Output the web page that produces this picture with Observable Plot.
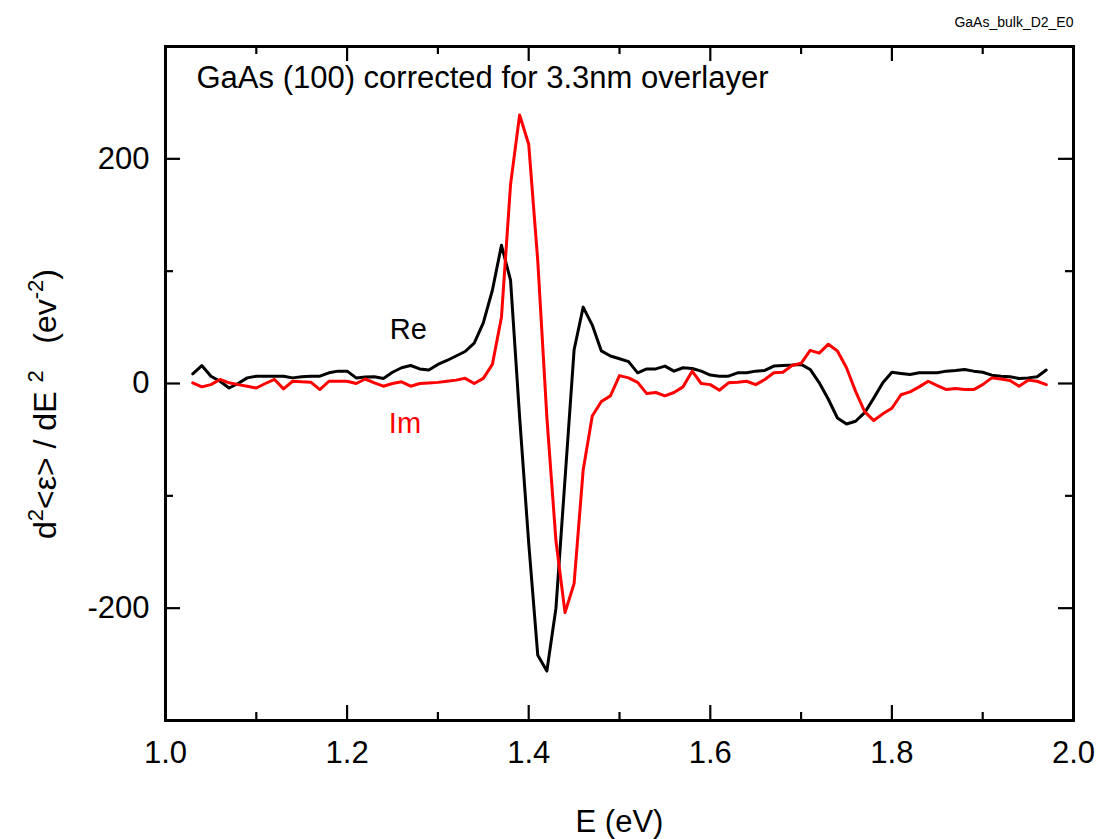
<!DOCTYPE html>
<html><head><meta charset="utf-8">
<script src="https://cdn.jsdelivr.net/npm/d3@7"></script>
<script src="https://cdn.jsdelivr.net/npm/@observablehq/plot@0.6"></script>
<style>body{margin:0;background:#fff}</style>
</head><body><div id="chart"></div>
<script>
const energy = [1.03,1.04,1.05,1.06,1.07,1.08,1.09,1.10,1.11,1.12,1.13,1.14,1.15,1.16,1.17,1.18,1.19,1.20,1.21,1.22,1.23,1.24,1.25,1.26,1.27,1.28,1.29,1.30,1.31,1.32,1.33,1.34,1.35,1.36,1.37,1.38,1.39,1.40,1.41,1.42,1.43,1.44,1.45,1.46,1.47,1.48,1.49,1.50,1.51,1.52,1.53,1.54,1.55,1.56,1.57,1.58,1.59,1.60,1.61,1.62,1.63,1.64,1.65,1.66,1.67,1.68,1.69,1.70,1.71,1.72,1.73,1.74,1.75,1.76,1.77,1.78,1.79,1.80,1.81,1.82,1.83,1.84,1.85,1.86,1.87,1.88,1.89,1.90,1.91,1.92,1.93,1.94,1.95,1.96,1.97];
const reValues = [8.6,16,6.5,2,-4,0,5,6.5,6.5,6.5,6.5,5,6,6.5,6.5,9.5,11,11,5,5.7,6,4.5,10,14,16,13,12,17,20.5,24.5,28.5,36,54,83,123,92,-30,-142,-242,-256,-200,-85,30,68,52,29,24.5,22,19.5,9.5,13,13,15.5,11,14,13.4,11,7.5,6.5,6.5,9.5,9.5,11,11.6,15.5,16,16.4,17,12.5,0.6,-14,-30.7,-36,-33.6,-26,-13,0.6,10,9,8,9.5,9.5,9.5,11,11.6,12.5,11,10,7.4,6.5,6,4.5,5,6,12];
const imValues = [0.6,-3,-1,3.6,0.6,-1,-2.4,-4,0,3.6,-4.8,2,1.5,1.2,-5.4,2,2,2,0,4,0.6,-2.4,0,1.5,-2.4,0,0.5,1,2,3,4.6,0,4.6,17,59,177,239,213,109,-30,-140,-204,-178,-77,-29,-16,-11,7,5,1,-9,-8,-11,-8,-3,11,0,-1,-6,0.6,1.2,2,-1,3.6,9.5,10,16,18,29.5,27,35,29,14,-7,-25,-33,-27,-22,-10,-7.5,-3,2,-1.8,-5.4,-4.5,-5.4,-5.4,-1,5,4,2.7,-2.4,3,2,-1];
const xMajorTicks = [1.0,1.2,1.4,1.6,1.8,2.0];
const xMinorTicks = [1.1,1.3,1.5,1.7,1.9];
const yMajorTicks = [-200,0,200];
const yMinorTicks = [-100,100];
const seriesLabels = [
  {text:"Re", E:1.247, v:48, color:"black"},
  {text:"Im", E:1.246, v:-36, color:"red"}
];
const titleText = "GaAs (100) corrected for 3.3nm overlayer";
const cornerText = "GaAs_bulk_D2_E0";
const xLabel = "E (eV)";

const reRows = energy.map((E,i)=>({E, v:reValues[i]}));
const imRows = energy.map((E,i)=>({E, v:imValues[i]}));

const W=1099, H=839, mL=165, mR=26, mT=46, mB=119;
const innerH = H-mT-mB, innerW = W-mL-mR;
const majorLen = 15, minorLen = 8;

const chart = Plot.plot({
  width: W, height: H,
  marginLeft: mL, marginRight: mR, marginTop: mT, marginBottom: mB,
  style: {fontFamily: "'Liberation Sans', Arial, sans-serif", background: "white", color: "black", fontSize: "31px"},
  x: {domain: [1, 2]},
  y: {domain: [-300, 300]},
  marks: [
    Plot.axisX(xMajorTicks, {tickSize: 0, tickPadding: 20, tickFormat: d => d.toFixed(1), fontSize: 31, label: null}),
    Plot.axisY(yMajorTicks, {tickSize: 0, tickPadding: 16, tickFormat: d => String(d), fontSize: 31, label: null}),
    Plot.ruleX(xMajorTicks, {insetTop: innerH - majorLen, strokeWidth: 2.2}),
    Plot.ruleX(xMajorTicks, {insetBottom: innerH - majorLen, strokeWidth: 2.2}),
    Plot.ruleX(xMinorTicks, {insetTop: innerH - minorLen, strokeWidth: 2.2}),
    Plot.ruleX(xMinorTicks, {insetBottom: innerH - minorLen, strokeWidth: 2.2}),
    Plot.ruleY(yMajorTicks, {insetRight: innerW - majorLen, strokeWidth: 2.2}),
    Plot.ruleY(yMajorTicks, {insetLeft: innerW - majorLen, strokeWidth: 2.2}),
    Plot.ruleY(yMinorTicks, {insetRight: innerW - minorLen, strokeWidth: 2.2}),
    Plot.ruleY(yMinorTicks, {insetLeft: innerW - minorLen, strokeWidth: 2.2}),
    Plot.line(reRows, {x: "E", y: "v", stroke: "black", strokeWidth: 3}),
    Plot.line(imRows, {x: "E", y: "v", stroke: "#ff0000", strokeWidth: 3}),
    Plot.frame({strokeWidth: 3}),
    Plot.text(seriesLabels, {x: "E", y: "v", text: "text", fill: "color", textAnchor: "start", fontSize: 29}),
    Plot.text([titleText], {frameAnchor: "top-left", dx: 31, dy: 32, textAnchor: "start", lineAnchor: "middle", fontSize: 31}),
    Plot.text([cornerText], {frameAnchor: "top-right", dy: -24, textAnchor: "end", lineAnchor: "middle", fontSize: 14, fontFamily: "'Liberation Sans Narrow', 'Liberation Sans', Arial, sans-serif"}),
    Plot.text([xLabel], {frameAnchor: "bottom", dy: 102, lineAnchor: "middle", fontSize: 31})
  ]
});
document.getElementById("chart").appendChild(chart);

// Y axis label with superscripts
const svg = d3.select(chart);
const yl = svg.append("text")
  .attr("transform", "translate(56,404) rotate(-90)")
  .attr("text-anchor", "middle")
  .attr("fill", "black")
  .style("font-family", "'Liberation Sans', Arial, sans-serif")
  .style("font-size", "32px")
  .style("white-space", "pre");
const parts = [
  {t: "d", sup: false},
  {t: "2", sup: true},
  {t: "<ε> / dE ", sup: false},
  {t: "2", sup: true},
  {t: "   (ev", sup: false},
  {t: "-2", sup: true},
  {t: ")", sup: false}
];
let prevSup = false;
for (const p of parts) {
  const ts = yl.append("tspan").text(p.t);
  if (p.sup && !prevSup) ts.attr("dy", -13).style("font-size", "22px");
  else if (!p.sup && prevSup) ts.attr("dy", 13);
  else if (p.sup) ts.style("font-size", "22px");
  prevSup = p.sup;
}
</script>
</body></html>
